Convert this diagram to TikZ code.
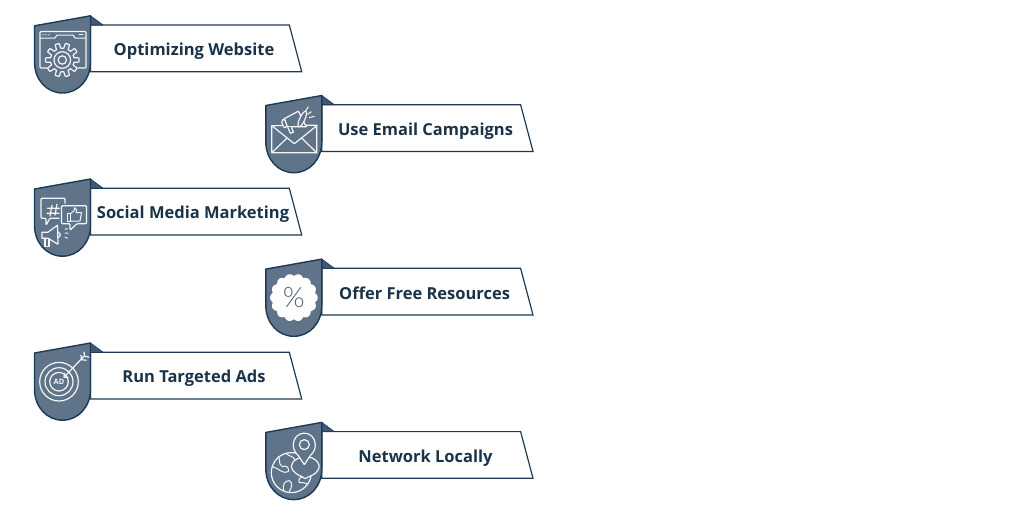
\documentclass[tikz,border=0pt]{standalone}
\usepackage{fontspec}
\setmainfont{Open Sans}
\newfontfamily\pctfont{Lato Light}
\definecolor{shieldfill}{HTML}{5F7389}
\definecolor{edgeblue}{HTML}{1D3B57}
\definecolor{foldblue}{HTML}{3E5A78}
\definecolor{labelink}{HTML}{1B3348}
\definecolor{iconline}{HTML}{F4F6F8}
\tikzset{
  banner/.style={draw=edgeblue,fill=white,line width=1.2pt,line join=miter},
  shield/.style={draw=edgeblue,fill=shieldfill,line width=1.4pt,line join=round},
  fold/.style={fill=foldblue,draw=edgeblue,line width=.7pt,line join=round},
  bannertext/.style={font=\bfseries\fontsize{16.5}{20}\selectfont,text=labelink,inner sep=0pt,anchor=base},
  ic/.style={draw=iconline,line width=1.2pt,line join=round,line cap=round},
  icthin/.style={draw=iconline,line width=1pt,line join=round,line cap=round},
}
\newcommand{\badgeitem}[6]{%
  \begin{scope}[shift={(#1,#2)}]
    \path[banner] (90.5,25) -- (289.3,25) -- (301.7,71.7) -- (90.5,71.7) -- cycle;
    \path[fold] (90.5,15.8) -- (103,25) -- (90.5,25) -- cycle;
    \path[shield] (34.5,25.8) -- (90.5,15.8) -- (90.5,62)
       .. controls (90.5,80) and (78,93) .. (62.5,93)
       .. controls (47,93) and (34.5,80) .. (34.5,62) -- cycle;
    \node[bannertext] (#3) at (#5,55.7) {#4};
    #6
  \end{scope}
}
\newcommand{\iconwindow}{%
  \path[ic,rounded corners=1pt] (47,68) -- (40,68) -- (40,31.5) -- (86,31.5) -- (86,68) -- (77.5,68);
  \path[icthin] (40,38) -- (55,38) -- (57,35) -- (73,35) -- (75,38) -- (86,38);
  \foreach \dx in {43,46,49}{\fill[iconline] (\dx,34.8) circle (.8);}
  \path[icthin] (79,34.8) -- (83,34.8);
  \path[ic,fill=shieldfill] plot[domain=0:360,samples=241] ({62.3+(14.3+2.5*max(min(3*cos(10*\x),1),-1))*cos(\x)},{60+(14.3+2.5*max(min(3*cos(10*\x),1),-1))*sin(\x)}) -- cycle;
  \path[ic] (62.3,60) circle (8.3);
  \path[ic] (62.3,60) circle (4.2);
}
\newcommand{\iconmail}{%
  \path[ic] (40.5,46) -- (85.5,45.5) -- (85.5,73) -- (40.5,73) -- cycle;
  \path[ic] (40.5,46) -- (63,64) -- (85.5,46);
  \path[ic] (40.5,73) -- (55.5,58.5) (85.5,73) -- (70.5,58.5);
  \path[ic,fill=shieldfill] (53,39) -- (67,31.5) -- (75,47) -- (56,47) -- cycle;
  \path[ic,fill=shieldfill,rotate around={-25:(71,39.3)}] (71,39.3) ellipse (2.6 and 8.5);
  \path[ic,fill=shieldfill,rounded corners=1.5pt] (53,39) -- (50,41) -- (52.5,48.5) -- (56,47) -- cycle;
  \path[ic,fill=shieldfill] (56.5,47.5) -- (59,53.5) -- (62,52.5) -- (60,47);
  \path[icthin] (74.5,31) -- (77,27) (78,38) -- (83,36.5) (76.5,34.5) -- (80,32);
}
\newcommand{\iconsocial}{%
  \path[ic,rounded corners=1pt] (65,40) -- (65,35) -- (41,35) -- (41,55) -- (46,55) -- (46,62) -- (50,55) -- (59,55);
  \path[ic] (52,42) -- (50,53) (57,41) -- (55,52) (47.5,45) -- (59.5,45) (47,50) -- (59,50);
  \path[ic,fill=shieldfill,rounded corners=1pt] (61.5,42.5) -- (86.5,42.5) -- (86.5,60.5) -- (77,60.5) -- (70,67) -- (70,60.5) -- (61.5,60.5) -- cycle;
  \path[icthin] (67,50) -- (70.5,50) -- (70.5,58) -- (67,58) -- cycle;
  \path[icthin] (70.5,50.5) -- (74,47.5) -- (74.5,44.5) .. controls (77,44.5) and (77,48) .. (76,49.5) -- (81.5,49.5) -- (80,58) -- (70.5,58);
  \path[ic] (42,69) -- (48,69) -- (57.5,62) -- (58,81) -- (48,75) -- (42,75) -- cycle;
  \path[ic] (45,75) -- (45,83) -- (49,83) -- (49,76);
  \path[ic] (58,69) .. controls (61,70) and (61,73) .. (58,74.5);
  \path[icthin] (65,66) -- (67.5,65.5) (65,70) -- (68,70) (65,74) -- (67.5,75);
}
\newcommand{\iconpercent}{%
  \fill[white] plot[domain=0:360,samples=281] ({62.6+(21.6+2.2*abs(cos(7*\x)))*cos(\x)},{54.3+(21.6+2.2*abs(cos(7*\x)))*sin(\x)}) -- cycle;
  \node[font=\pctfont\fontsize{28}{28}\selectfont,text=shieldfill!85!black,inner sep=0pt] (pct) at (62.6,54.3) {\%};
}
\newcommand{\icontarget}{%
  \path[ic] (59,54.5) circle (19.3);
  \path[ic] (59,54.5) circle (14);
  \path[ic] (59,54.5) circle (9.3);
  \node[font=\bfseries\fontsize{7.5}{8}\selectfont,text=iconline,inner sep=0pt] (adtext) at (59,54.5) {AD};
  \path[ic] (65,49) -- (84,29);
  \path[ic] (64,50) -- (64.5,46) (64,50) -- (68,50);
  \path[ic] (81,28) -- (81.5,32.5) -- (86,33) (84,25) -- (84.5,29) -- (89,30);
}
\newcommand{\iconglobe}{%
  \path[ic] (60,66) circle (20);
  \path[icthin] (47,50) .. controls (50,55) and (46,56) .. (51,60) .. controls (56,58) and (58,62) .. (57,65) .. controls (52,68) and (48,62) .. (41,60);
  \path[icthin] (55,47) .. controls (58,50) and (62,49) .. (64,54);
  \path[icthin] (53,85) .. controls (50,78) and (54,74) .. (58,74) .. controls (62,76) and (60,82) .. (58,85);
  \path[icthin] (75,68) .. controls (70,70) and (66,72) .. (68,76) .. controls (71,77) and (73,75) .. (76,77);
  \path[ic,fill=shieldfill] (73,50) .. controls (62,52) and (58,58) .. (61,63) .. controls (65,69) and (70,69) .. (74,72) .. controls (78,69) and (84,69) .. (87,63) .. controls (90,57) and (84,50) .. (73,50) -- cycle;
  \path[ic,fill=shieldfill] (73,58) -- (67,49) .. controls (63,45) and (62,42) .. (62,38) .. controls (62,31.5) and (67,26.5) .. (73,26.5) .. controls (79,26.5) and (84,31.5) .. (84,38) .. controls (84,42) and (83,45) .. (79,49) -- cycle;
  \path[ic] (73,38) circle (5);
}
\begin{document}
\begin{tikzpicture}[x=1pt,y=-1pt]
\useasboundingbox (0,0) rectangle (1024,517);
\fill[white] (0,0) rectangle (1024,517);
\badgeitem{0}{0}{optimizing}{Optimizing Website}{194}{\iconwindow}
\badgeitem{231.3}{79.7}{email}{Use Email Campaigns}{194.2}{\iconmail}
\badgeitem{0}{163.2}{social}{Social Media Marketing}{193}{\iconsocial}
\badgeitem{231.3}{243.3}{offer}{Offer Free Resources}{193.3}{\iconpercent}
\badgeitem{0}{327.2}{ads}{Run Targeted Ads}{194}{\icontarget}
\badgeitem{231.3}{406.6}{network}{Network Locally}{194.2}{\iconglobe}
\end{tikzpicture}
\end{document}
